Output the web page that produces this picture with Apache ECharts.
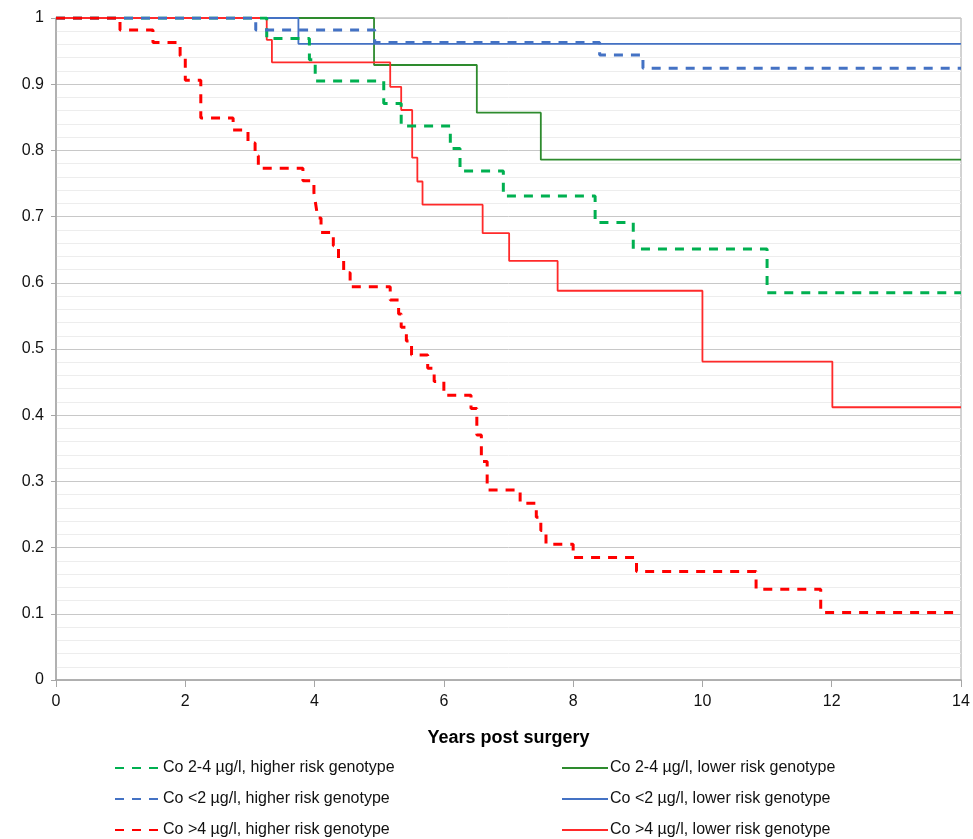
<!DOCTYPE html>
<html>
<head>
<meta charset="utf-8">
<script src="https://cdn.jsdelivr.net/npm/echarts@6/dist/echarts.min.js"></script>
<style>
html,body{margin:0;padding:0;background:#fff;}
#chart{width:973px;height:839px;}
</style>
</head>
<body>
<div id="chart"></div>
<script>
// Kaplan-Meier step data: time (years) and survival after each event
var names = [
  'Co 2-4 µg/l, higher risk genotype',
  'Co 2-4 µg/l, lower risk genotype',
  'Co <2 µg/l, higher risk genotype',
  'Co <2 µg/l, lower risk genotype',
  'Co >4 µg/l, higher risk genotype',
  'Co >4 µg/l, lower risk genotype'
];
var xTicks = [0, 2, 4, 6, 8, 10, 12, 14];

var greenHighT = [0, 3.26, 3.92, 4.01, 5.07, 5.34, 6.10, 6.25, 6.92, 8.34, 8.93, 11.0, 14];
var greenHighS = [1, 0.969, 0.937, 0.905, 0.871, 0.837, 0.803, 0.769, 0.731, 0.691, 0.651, 0.585, 0.585];

var greenLowT = [0, 4.92, 6.51, 7.50, 14];
var greenLowS = [1, 0.929, 0.857, 0.786, 0.786];

var blueHighT = [0, 3.09, 4.93, 8.41, 9.08, 14];
var blueHighS = [1, 0.982, 0.963, 0.944, 0.924, 0.924];

var blueLowT = [0, 3.75, 14];
var blueLowS = [1, 0.961, 0.961];

var redHighT = [0, 0.99, 1.50, 1.92, 2.00, 2.24, 2.74, 2.97, 3.08, 3.13, 3.82, 3.99, 4.02, 4.05, 4.10,
  4.29, 4.37, 4.45, 4.55, 5.17, 5.30, 5.34, 5.42, 5.50, 5.75, 5.85, 6.00, 6.42, 6.51, 6.58, 6.67,
  7.18, 7.43, 7.50, 7.58, 8.00, 8.98, 10.83, 11.83, 14];
var redHighS = [1, 0.982, 0.963, 0.943, 0.906, 0.849, 0.831, 0.811, 0.792, 0.773, 0.754, 0.736, 0.717, 0.698, 0.676,
  0.656, 0.636, 0.615, 0.594, 0.574, 0.553, 0.533, 0.512, 0.491, 0.471, 0.451, 0.430, 0.410, 0.37, 0.33, 0.287,
  0.267, 0.246, 0.226, 0.205, 0.185, 0.164, 0.137, 0.102, 0.102];

var redLowT = [0, 3.26, 3.34, 5.17, 5.34, 5.51, 5.59, 5.67, 6.60, 7.01, 7.76, 10.0, 12.01, 14];
var redLowS = [1, 0.967, 0.933, 0.896, 0.861, 0.789, 0.753, 0.718, 0.675, 0.633, 0.588, 0.481, 0.412, 0.412];

function pairs(t, s) { return t.map(function (v, i) { return [v, s[i]]; }); }

function mk(name, t, s, color, dashed, z) {
  return {
    name: name, type: 'line', step: 'end', data: pairs(t, s),
    showSymbol: false, symbol: 'none', z: z,
    lineStyle: dashed ? { color: color, width: 3, type: [9, 8] } : { color: color, width: 1.8 },
    itemStyle: { color: color },
    emphasis: { disabled: true }
  };
}

var chart = echarts.init(document.getElementById('chart'), null, { renderer: 'canvas' });
var font = 'Liberation Sans, Arial, sans-serif';
var legendCommon = {
  orient: 'vertical', itemWidth: 46, itemHeight: 14, itemGap: 15, padding: 0, height: 90,
  itemStyle: { opacity: 0 },
  textStyle: { fontFamily: font, fontSize: 16, color: '#111', padding: [0, 0, 0, -3] },
  selectedMode: false
};
chart.setOption({
  animation: false,
  grid: { left: 56, right: 12, top: 18, bottom: 159, show: true, borderColor: '#A6A6A6', borderWidth: 1 },
  legend: [
    Object.assign({ left: 114, top: 760, data: [names[0], names[2], names[4]] }, legendCommon),
    Object.assign({ left: 561, top: 760, data: [names[1], names[3], names[5]] }, legendCommon)
  ],
  xAxis: {
    type: 'value', min: xTicks[0], max: xTicks[xTicks.length - 1], interval: 2,
    name: 'Years post surgery', nameLocation: 'middle', nameGap: 49,
    nameTextStyle: { fontFamily: font, fontSize: 18, fontWeight: 'bold', color: '#000' },
    axisLine: { show: true, lineStyle: { color: '#A6A6A6', width: 1.5 } },
    axisTick: { show: true, length: 7, lineStyle: { color: '#A6A6A6' } },
    axisLabel: { fontFamily: font, fontSize: 16, color: '#111', margin: 14 },
    splitLine: { show: false }
  },
  yAxis: {
    type: 'value', min: 0, max: 1, interval: 0.1,
    axisLine: { show: true, lineStyle: { color: '#A6A6A6', width: 1.5 } },
    axisTick: { show: true, length: 5, lineStyle: { color: '#A6A6A6' } },
    axisLabel: { fontFamily: font, fontSize: 16, color: '#111', margin: 12 },
    splitLine: { show: true, lineStyle: { color: '#C8C8C8', width: 1 } },
    minorTick: { show: false, splitNumber: 5 },
    minorSplitLine: { show: true, lineStyle: { color: '#EDEDED', width: 1 } }
  },
  series: [
    mk(names[1], greenLowT, greenLowS, '#2E8B2E', false, 2),
    mk(names[3], blueLowT, blueLowS, '#4472C4', false, 2),
    mk(names[5], redLowT, redLowS, '#FF2A2A', false, 2),
    mk(names[0], greenHighT, greenHighS, '#00B050', true, 3),
    mk(names[2], blueHighT, blueHighS, '#4472C4', true, 3),
    mk(names[4], redHighT, redHighS, '#FF0000', true, 3)
  ]
});
</script>
</body>
</html>
